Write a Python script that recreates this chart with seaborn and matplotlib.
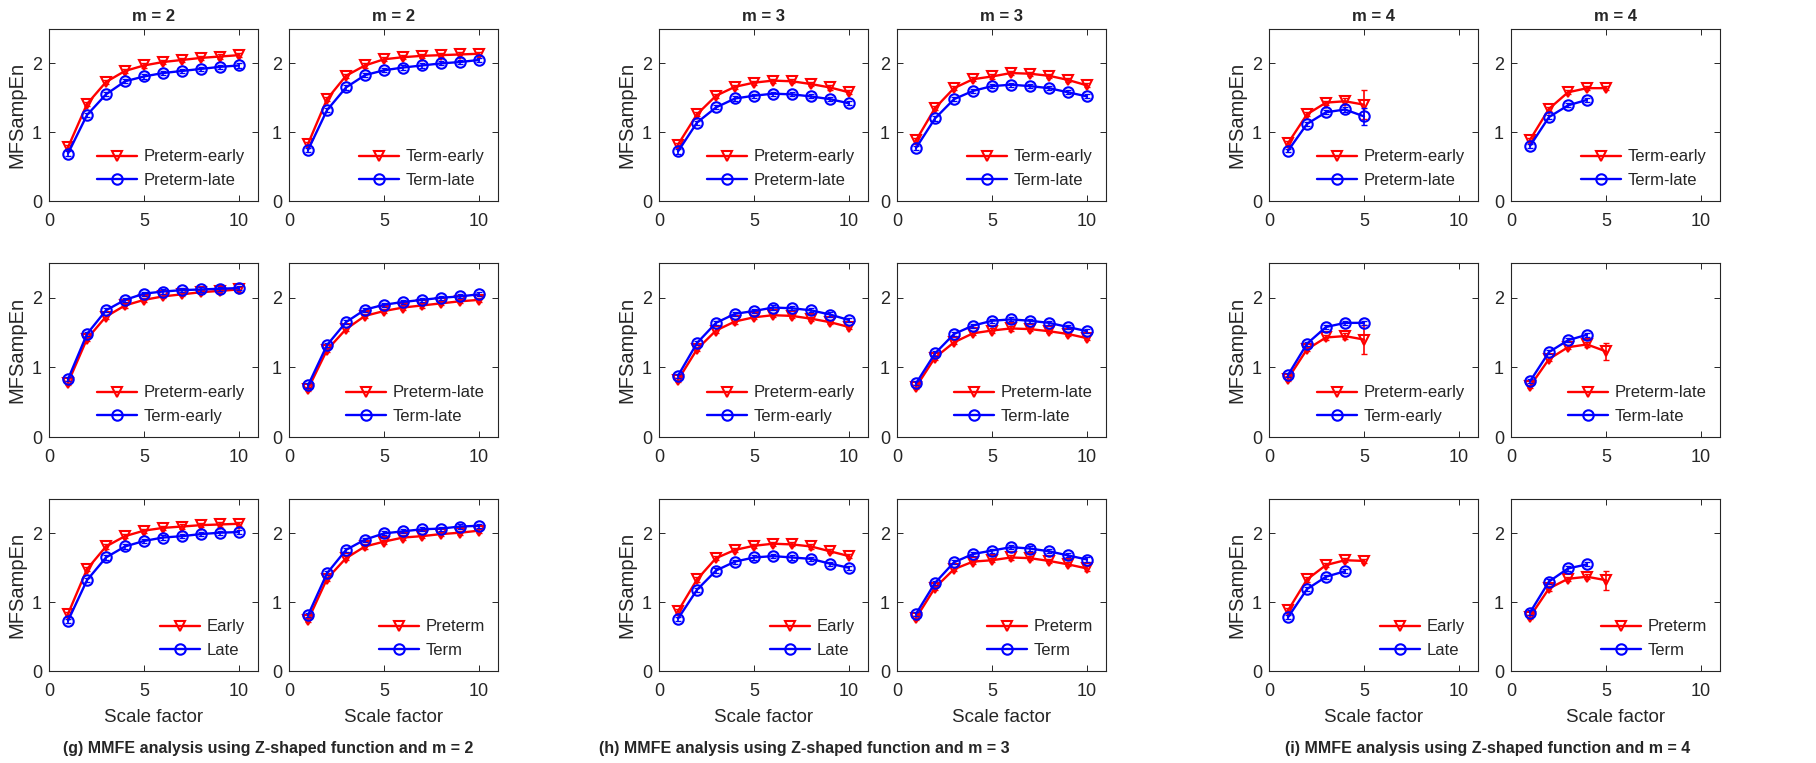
import matplotlib
matplotlib.use("Agg")
import matplotlib.pyplot as plt
import seaborn as sns

# scale factors on the x axis
scale = [1, 2, 3, 4, 5, 6, 7, 8, 9, 10]

# MFSampEn values, m = 2
m2_preterm_early = [0.78, 1.41, 1.73, 1.89, 1.97, 2.02, 2.05, 2.08, 2.10, 2.12]
m2_preterm_late = [0.69, 1.25, 1.55, 1.74, 1.81, 1.86, 1.89, 1.92, 1.95, 1.97]
m2_term_early = [0.83, 1.48, 1.82, 1.97, 2.06, 2.09, 2.11, 2.12, 2.13, 2.14]
m2_term_late = [0.74, 1.32, 1.65, 1.83, 1.90, 1.94, 1.97, 2.00, 2.02, 2.05]
m2_early = [0.83, 1.48, 1.81, 1.96, 2.04, 2.08, 2.10, 2.12, 2.13, 2.14]
m2_late = [0.73, 1.32, 1.65, 1.81, 1.89, 1.94, 1.96, 1.99, 2.01, 2.02]
m2_preterm = [0.74, 1.34, 1.64, 1.81, 1.88, 1.94, 1.96, 1.99, 2.01, 2.04]
m2_term = [0.81, 1.42, 1.76, 1.91, 2.00, 2.03, 2.06, 2.07, 2.10, 2.11]

# m = 3
m3_preterm_early = [0.82, 1.26, 1.53, 1.66, 1.72, 1.75, 1.74, 1.70, 1.65, 1.58]
m3_preterm_late = [0.72, 1.14, 1.36, 1.49, 1.53, 1.56, 1.55, 1.52, 1.48, 1.42]
m3_term_early = [0.88, 1.35, 1.64, 1.77, 1.81, 1.86, 1.85, 1.82, 1.76, 1.68]
m3_term_late = [0.77, 1.20, 1.48, 1.60, 1.67, 1.69, 1.67, 1.64, 1.58, 1.52]
m3_early = [0.87, 1.33, 1.64, 1.76, 1.82, 1.85, 1.84, 1.81, 1.74, 1.67]
m3_late = [0.76, 1.18, 1.46, 1.59, 1.65, 1.67, 1.65, 1.63, 1.56, 1.50]
m3_preterm = [0.77, 1.21, 1.48, 1.59, 1.61, 1.65, 1.64, 1.60, 1.55, 1.49]
m3_term = [0.83, 1.28, 1.58, 1.70, 1.75, 1.80, 1.78, 1.74, 1.68, 1.62]

# m = 4 (shorter curves, undefined at larger scales)
m4_preterm_early = [0.84, 1.26, 1.43, 1.45, 1.40]
m4_preterm_late = [0.73, 1.12, 1.29, 1.33, 1.23]
m4_term_early = [0.89, 1.34, 1.58, 1.64, 1.64]
m4_term_late = [0.80, 1.22, 1.39, 1.47]
m4_early = [0.88, 1.33, 1.54, 1.61, 1.60]
m4_late = [0.78, 1.19, 1.37, 1.45]
m4_preterm = [0.79, 1.20, 1.34, 1.37, 1.32]
m4_term = [0.85, 1.30, 1.49, 1.55]

# error bars (mostly hidden inside markers)
small_err = 0.03
m4_preterm_early_err = [0.03, 0.03, 0.03, 0.04, 0.21]
m4_preterm_late_err = [0.02, 0.03, 0.03, 0.04, 0.12]
m4_preterm_err = [0.03, 0.03, 0.03, 0.04, 0.14]

labels = {
    "preterm_early": "Preterm-early", "preterm_late": "Preterm-late",
    "term_early": "Term-early", "term_late": "Term-late",
    "early": "Early", "late": "Late", "preterm": "Preterm", "term": "Term",
}

series = {
    2: {"preterm_early": m2_preterm_early, "preterm_late": m2_preterm_late,
        "term_early": m2_term_early, "term_late": m2_term_late,
        "early": m2_early, "late": m2_late, "preterm": m2_preterm, "term": m2_term},
    3: {"preterm_early": m3_preterm_early, "preterm_late": m3_preterm_late,
        "term_early": m3_term_early, "term_late": m3_term_late,
        "early": m3_early, "late": m3_late, "preterm": m3_preterm, "term": m3_term},
    4: {"preterm_early": m4_preterm_early, "preterm_late": m4_preterm_late,
        "term_early": m4_term_early, "term_late": m4_term_late,
        "early": m4_early, "late": m4_late, "preterm": m4_preterm, "term": m4_term},
}
errors = {
    4: {"preterm_early": m4_preterm_early_err, "preterm_late": m4_preterm_late_err,
        "preterm": m4_preterm_err},
}

# (red, blue) pairs for each row / column inside a group
pairs = [
    [("preterm_early", "preterm_late"), ("term_early", "term_late")],
    [("preterm_early", "term_early"), ("preterm_late", "term_late")],
    [("early", "late"), ("preterm", "term")],
]

sns.set_theme(style="white")
plt.rcParams["font.family"] = ["Liberation Sans", "DejaVu Sans"]

W, H = 1816, 763
fig = plt.figure(figsize=(W / 100, H / 100), dpi=100)

col_left = [49, 289, 659, 897, 1269, 1511]
col_w = 209
row_top = [29, 263, 499]
row_h = [172, 174, 172]
caption_x = [268, 804, 1488]
dark = "#262626"

for g, m in enumerate([2, 3, 4]):
    for r in range(3):
        for c in range(2):
            left = col_left[2 * g + c]
            ax = fig.add_axes([left / W, 1 - (row_top[r] + row_h[r]) / H, col_w / W, row_h[r] / H])
            for name, color, marker in zip(pairs[r][c], ["red", "blue"], ["v", "o"]):
                y = series[m][name]
                x = scale[:len(y)]
                err = errors.get(m, {}).get(name, small_err)
                ax.errorbar(x, y, yerr=err, fmt="none", ecolor=color, elinewidth=1.2, capsize=2.5)
                sns.lineplot(x=x, y=y, ax=ax, color=color, marker=marker, markersize=7.5,
                             markerfacecolor="none", markeredgecolor=color,
                             markeredgewidth=1.5, linewidth=1.7, label=labels[name])
            ax.set_xlim(0, 11)
            ax.set_ylim(0, 2.5)
            ax.set_xticks([0, 5, 10])
            ax.set_yticks([0, 1, 2])
            ax.tick_params(direction="in", top=True, right=True, bottom=True, left=True,
                           length=4, width=0.7, color=dark, labelcolor=dark, labelsize=13)
            ax.tick_params(axis="x", pad=9)
            ax.tick_params(axis="y", pad=5)
            for sp in ax.spines.values():
                sp.set_color(dark)
                sp.set_linewidth(0.8)
            ax.legend(loc="lower right", frameon=False, fontsize=12, handlelength=2.4,
                      labelspacing=0.5, handletextpad=0.4, borderaxespad=0.4)
            ax.set_xlabel("Scale factor" if r == 2 else "", fontsize=13.5, color=dark, labelpad=6)
            ax.set_ylabel("MFSampEn" if c == 0 else "", fontsize=14.5, color=dark)
            if r == 0:
                ax.set_title(f"m = {m}", fontsize=12, fontweight="bold", pad=6)
    fig.text(caption_x[g] / W, 1 - 748 / H,
             f"({'ghi'[g]}) MMFE analysis using Z-shaped function and m = {m}",
             ha="center", va="center", fontsize=11.5, fontweight="bold")

fig.savefig("out.png", dpi=100)
